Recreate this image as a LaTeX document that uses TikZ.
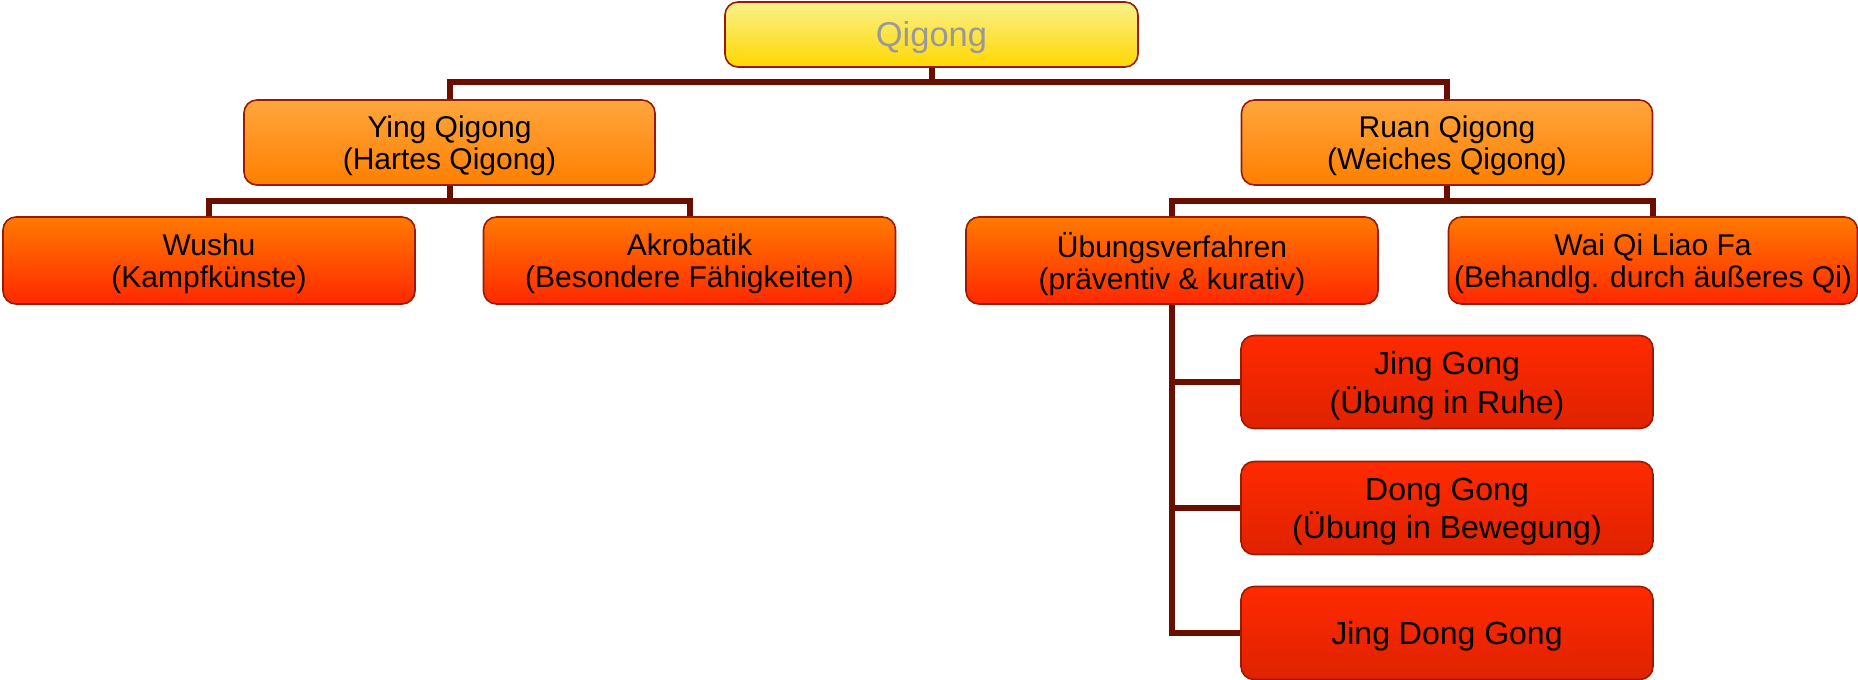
\documentclass[tikz,border=0pt]{standalone}
\usepackage{fontspec}
\setmainfont{Liberation Sans}
\usetikzlibrary{backgrounds}
\definecolor{conncol}{HTML}{6A0E00}
\definecolor{bordercol}{HTML}{9B1B00}
\definecolor{yTop}{HTML}{FAF08A}
\definecolor{yBot}{HTML}{FFD800}
\definecolor{oTop}{HTML}{FFA63E}
\definecolor{oBot}{HTML}{FF7F00}
\definecolor{rTop}{HTML}{FF7A00}
\definecolor{rBot}{HTML}{FF2800}
\definecolor{dTop}{HTML}{FF2A00}
\definecolor{dBot}{HTML}{DF2200}
\definecolor{graytext}{HTML}{999999}
\tikzset{
  box/.style={draw=bordercol, line width=1.6pt, rounded corners=13pt, inner sep=0pt},
  rootbox/.style={box, top color=yTop, bottom color=yBot, minimum width=413pt, minimum height=65pt},
  lvlone/.style={box, top color=oTop, bottom color=oBot, minimum width=411pt, minimum height=85pt},
  lvltwo/.style={box, top color=rTop, bottom color=rBot, minimum width=412pt, minimum height=87pt},
  lvlthree/.style={box, top color=dTop, bottom color=dBot, minimum width=412pt, minimum height=93pt},
  lbl/.style={inner sep=0pt, align=center, text=black, font=\fontsize{30}{32}\selectfont},
  rootlbl/.style={lbl, text=graytext, font=\fontsize{34.5}{38}\selectfont},
  lbltwo/.style={lbl, font=\fontsize{32}{38.5}\selectfont},
  conn/.style={draw=conncol, line width=6pt, line join=miter}
}
\begin{document}
\begin{tikzpicture}[x=1pt,y=-1pt]
\path[use as bounding box] (0,0) rectangle (1858,680);
\node[rootbox] (q) at (931.5,34.5) {};
\node[lvlone] (ying) at (449.5,142.5) {};
\node[lvlone] (ruan) at (1447,142.5) {};
\node[lvltwo] (wushu) at (209,260.5) {};
\node[lvltwo] (akro) at (689.5,260.5) {};
\node[lvltwo] (ub) at (1172,260.5) {};
\node[lvltwo, minimum width=409pt] (wai) at (1653,260.5) {};
\node[lvlthree] (jg) at (1447,382) {};
\node[lvlthree] (dg) at (1447,508) {};
\node[lvlthree] (jd) at (1447,633) {};
\node[rootlbl] (qT) at ([yshift=-3.5pt]q.center) {Qigong};
\node[lbl] (yingT) at ([yshift=-3.5pt]ying.center) {Ying Qigong\\(Hartes Qigong)};
\node[lbl] (ruanT) at ([yshift=-3.5pt]ruan.center) {Ruan Qigong\\(Weiches Qigong)};
\node[lbl] (wushuT) at ([yshift=-3.5pt]wushu.center) {Wushu\\(Kampfkünste)};
\node[lbl] (akroT) at ([yshift=-3.5pt]akro.center) {Akrobatik\\(Besondere Fähigkeiten)};
\node[lbl] (ubT) at ([yshift=-3.5pt]ub.center) {Übungsverfahren\\(präventiv \& kurativ)};
\node[lbl] (waiT) at ([yshift=-3.5pt]wai.center) {Wai Qi Liao Fa\\(Behandlg. durch äußeres Qi)};
\node[lbltwo] (jgT) at ([yshift=-3.5pt]jg.center) {Jing Gong\\(Übung in Ruhe)};
\node[lbltwo] (dgT) at ([yshift=-3.5pt]dg.center) {Dong Gong\\(Übung in Bewegung)};
\node[lbltwo] (jdT) at ([yshift=-3.5pt]jd.center) {Jing Dong Gong};
\coordinate (busA) at (0,82);
\coordinate (busB) at (0,201);
\begin{scope}[on background layer]
\draw[conn] (q.south) -- (q.south |- busA);
\draw[conn] (ying.north) |- (ruan.north |- busA) -- (ruan.north);
\draw[conn] (ying.south) -- (ying.south |- busB);
\draw[conn] (wushu.north) |- (akro.north |- busB) -- (akro.north);
\draw[conn] (ruan.south) -- (ruan.south |- busB);
\draw[conn] (ub.north) |- (wai.north |- busB) -- (wai.north);
\draw[conn] (ub.south) |- (jd.west);
\draw[conn] (jg.west) -- (jg.west -| ub.south);
\draw[conn] (dg.west) -- (dg.west -| ub.south);
\end{scope}
\end{tikzpicture}
\end{document}
